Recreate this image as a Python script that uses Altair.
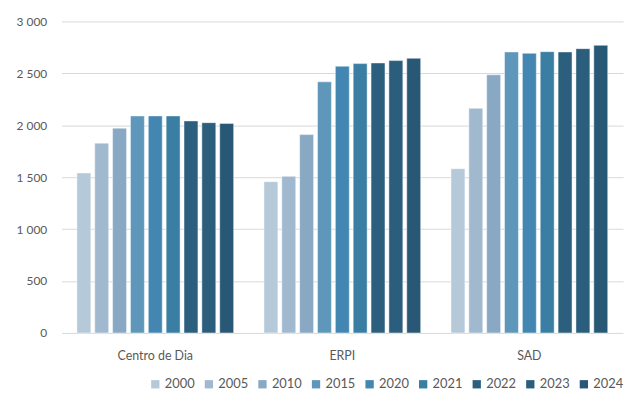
import altair as alt
import pandas as pd

groups = ["Centro de Dia", "ERPI", "SAD"]
years = ["2000", "2005", "2010", "2015", "2020", "2021", "2022", "2023", "2024"]
centro = [1540, 1828, 1972, 2090, 2090, 2090, 2042, 2025, 2018]
erpi = [1457, 1508, 1910, 2418, 2569, 2594, 2600, 2623, 2645]
sad = [1582, 2163, 2486, 2706, 2693, 2709, 2706, 2738, 2770]
colors = ["#b5c9d9", "#a1b9cf", "#88a8c4", "#5f97ba", "#4286b1",
          "#3a7ea3", "#2c5f7e", "#2b5e7c", "#295877"]

rows = []
for g, vals in zip(groups, [centro, erpi, sad]):
    for y, v in zip(years, vals):
        rows.append({"grupo": g, "ano": y, "valor": v})
df = pd.DataFrame(rows)

font = "Lato"
chart = alt.Chart(df).mark_bar(stroke="white", strokeOpacity=0.45, strokeWidth=1).encode(
    x=alt.X("grupo:N", sort=groups, title=None,
            scale=alt.Scale(paddingInner=0.162, paddingOuter=0.082),
            axis=alt.Axis(labelAngle=0, domain=False, ticks=False, labelPadding=17,
                          labelFont=font, labelFontSize=12.5, labelColor="#595959")),
    xOffset=alt.XOffset("ano:N", sort=years,
                        scale=alt.Scale(paddingInner=0.22, paddingOuter=0)),
    y=alt.Y("valor:Q", title=None,
            scale=alt.Scale(domain=[0, 3000], nice=False),
            axis=alt.Axis(values=[0, 500, 1000, 1500, 2000, 2500, 3000],
                          labelExpr="replace(format(datum.value, ','), ',', ' ')",
                          domain=False, ticks=False, labelPadding=15,
                          gridColor="#d9d9d9", gridWidth=1,
                          labelFont=font, labelFontSize=12, labelColor="#595959")),
    color=alt.Color("ano:N", sort=years, title=None,
                    scale=alt.Scale(domain=years, range=colors),
                    legend=alt.Legend(orient="none", legendX=88, legendY=359,
                                      direction="horizontal", symbolType="square",
                                      symbolSize=70, symbolStrokeWidth=0,
                                      labelFont=font, labelFontSize=13,
                                      labelColor="#595959", labelOffset=3,
                                      columnPadding=7)),
).properties(
    width=566, height=314,
    autosize=alt.AutoSizeParams(type="none"),
    padding={"left": 54, "top": 12, "right": 8, "bottom": 60},
).configure_view(stroke=None)

chart.save("out.html", embed_options={"renderer": "svg", "actions": False})
